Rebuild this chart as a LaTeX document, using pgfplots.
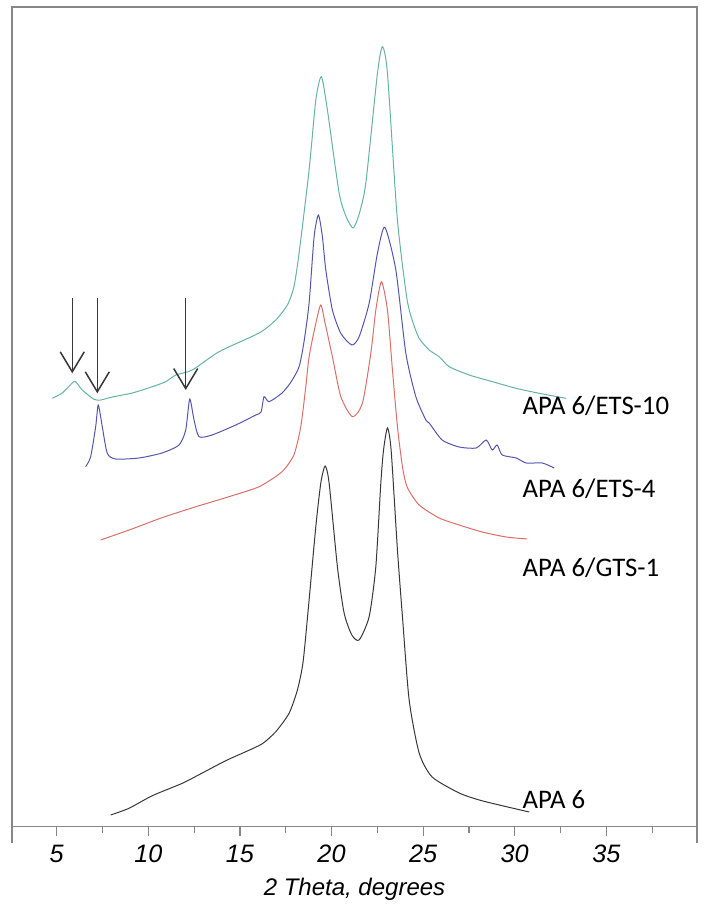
\documentclass[border=0pt]{standalone}
\usepackage{fontspec}
\setmainfont{Liberation Sans}
\newfontfamily\carlito{Carlito}
\usepackage{pgfplots}
\pgfplotsset{compat=1.18}
\usetikzlibrary{arrows.meta}
\definecolor{cgreen}{RGB}{100,180,160}
\definecolor{cblue}{RGB}{85,85,175}
\definecolor{cred}{RGB}{220,110,105}
\definecolor{cblack}{RGB}{55,55,55}
\definecolor{fgray}{RGB}{135,135,135}
\begin{document}
\begin{tikzpicture}
\begin{axis}[
  scale only axis,
  width=342.5pt, height=409.85pt,
  xmin=2.56, xmax=39.95, ymin=0, ymax=819.7,
  ytick=\empty,
  xtick={5,10,...,35},
  minor xtick={7.5,12.5,...,37.5},
  xtick pos=left,
  tick align=outside,
  major tick length=4.5pt, minor tick length=3pt,
  every tick/.style={fgray, line width=0.6pt},
  axis line style={fgray, line width=0.75pt},
  /pgf/number format/assume math mode=true,
  xticklabel style={font=\fontsize{12.6}{14}\selectfont\itshape, yshift=-1pt},
  xlabel={2 Theta, degrees},
  xlabel style={font=\fontsize{12}{14}\selectfont\itshape, yshift=-1pt},
  clip=false,
  every axis plot/.style={line width=0.5pt, smooth, tension=0.4},
]
% APA 6 (black)
\addplot[cblack] coordinates {
(7.946,11.7) (8.946,18.4) (10.218,31) (11.857,43.4) (12.769,52) (14.227,66)
(15.320,75) (16.226,83) (16.958,95) (17.684,113.4) (18.138,136.7) (18.45,165)
(18.777,226.7) (19.143,300) (19.416,343.7) (19.651,360.7) (19.869,343.7) (20.322,260)
(20.688,213.7) (21.1,192) (21.507,186.7) (22.054,210) (22.419,260) (22.692,343.7) (22.840,376.7)
(23.053,398.7) (23.254,376.7) (23.599,276.7) (23.872,210) (24.238,126.7) (24.784,73.7)
(25.494,49.7) (26.969,33.7) (28.062,26.7) (29.154,21.7) (30.792,14.7)
};
% APA 6/GTS-1 (red)
\addplot[cred] coordinates {
(7.400,286.7) (9.0,297) (10.75,309) (12.6,320) (14.4,330) (16.05,340)
(17.302,355) (17.95,372) (18.323,400) (18.597,440) (18.777,470)
(19.143,503.4) (19.416,521.7) (19.651,503.4) (20.049,470) (20.508,430) (21.141,410)
(21.687,423.4) (22.146,473.4) (22.419,516.7) (22.725,545) (23.053,516.7) (23.326,456.7)
(23.599,400) (23.872,360) (24.129,339.7) (24.784,321.7) (25.877,308.7) (26.969,301.7)
(28.226,294.7) (29.536,289.7) (30.683,287.7)
};
% APA 6/ETS-4 (blue)
\addplot[cblue] coordinates {
(6.581,360) (6.854,370) (7.127,400) (7.269,421.7) (7.488,400) (7.761,373.4) (8.220,367.7)
(9.492,368.7) (10.748,373.7) (11.677,381.7) (12.043,396.7) (12.261,427.7) (12.496,406.7)
(12.769,390) (13.479,391.7) (14.773,401.7) (15.866,411.7) (16.155,414.7) (16.319,430)
(16.592,425) (17.302,433.7) (17.8,445) (18.231,460) (18.5,485) (18.777,523.7) (19.050,590)
(19.285,611.7) (19.503,590) (19.689,556.7) (20.049,516.7) (20.508,493.4) (21.109,481.7)
(21.507,490) (22.054,523.4) (22.507,573.4) (22.911,599.4) (23.512,556.7) (24.058,473.4)
(24.604,430) (25.150,406.7) (25.331,403.7) (26.040,386.7) (26.969,379.7) (27.898,378.7)
(28.444,386.7) (28.772,376.7) (29.044,381.7) (29.317,371.7) (30.082,368.7) (30.628,363.7)
(31.502,363.7) (32.158,358.7)
};
% APA 6/ETS-10 (green)
\addplot[cgreen] coordinates {
(4.757,428.4) (5.303,433.7) (5.849,443.7) (6.035,445) (6.395,436.7) (7.034,427.4)
(7.400,426.7) (8.034,429.7) (9.126,433.7) (10.218,440) (10.950,445) (11.496,451.7)
(12.403,456.7) (13.861,475) (16.046,493.7) (16.958,506.7) (17.6,522) (17.95,540) (18.231,573.7)
(18.777,656.7) (19.143,726.7) (19.449,750) (19.776,716.7) (20.415,633.7) (20.8,610) (21.179,598.7)
(21.5,612) (21.873,643.7) (22.507,753.4) (22.780,780) (23.053,753.4) (23.583,609.7) (24.1,530) (24.402,506.7)
(24.784,488.4) (25.331,476.7) (25.877,470) (26.423,460) (27.515,451.7) (28.788,445)
(30.066,438.4) (31.338,433.4) (32.797,428.4)
};
% arrows
\draw[cblack, line width=0.75pt, -{Straight Barb[length=10pt,width=12pt]}] (axis cs:5.849,528.7) -- (axis cs:5.849,453.4);
\draw[cblack, line width=0.75pt, -{Straight Barb[length=10pt,width=12pt]}] (axis cs:7.215,528.7) -- (axis cs:7.215,433.4);
\draw[cblack, line width=0.75pt, -{Straight Barb[length=10pt,width=12pt]}] (axis cs:12.043,528.7) -- (axis cs:12.043,436.7);
% labels
\node[anchor=base west, inner sep=0pt, font=\carlito\fontsize{13.4}{15}\selectfont] at (axis cs:30.41,411.7) {APA 6/ETS-10};
\node[anchor=base west, inner sep=0pt, font=\carlito\fontsize{13.4}{15}\selectfont] at (axis cs:30.41,328.7) {APA 6/ETS-4};
\node[anchor=base west, inner sep=0pt, font=\carlito\fontsize{13.4}{15}\selectfont] at (axis cs:30.41,249.7) {APA 6/GTS-1};
\node[anchor=base west, inner sep=0pt, font=\carlito\fontsize{13.4}{15}\selectfont] at (axis cs:30.41,18.7) {APA 6};
% frame extensions below axis
\draw[fgray, line width=0.75pt] (rel axis cs:0,0) -- ([yshift=-8pt]rel axis cs:0,0);
\draw[fgray, line width=0.75pt] (rel axis cs:1,0) -- ([yshift=-8pt]rel axis cs:1,0);
\end{axis}
\path (current axis.south west) ++(-6pt,-41.65pt) rectangle ([xshift=4pt,yshift=3.5pt]current axis.north east);
\end{tikzpicture}
\end{document}
